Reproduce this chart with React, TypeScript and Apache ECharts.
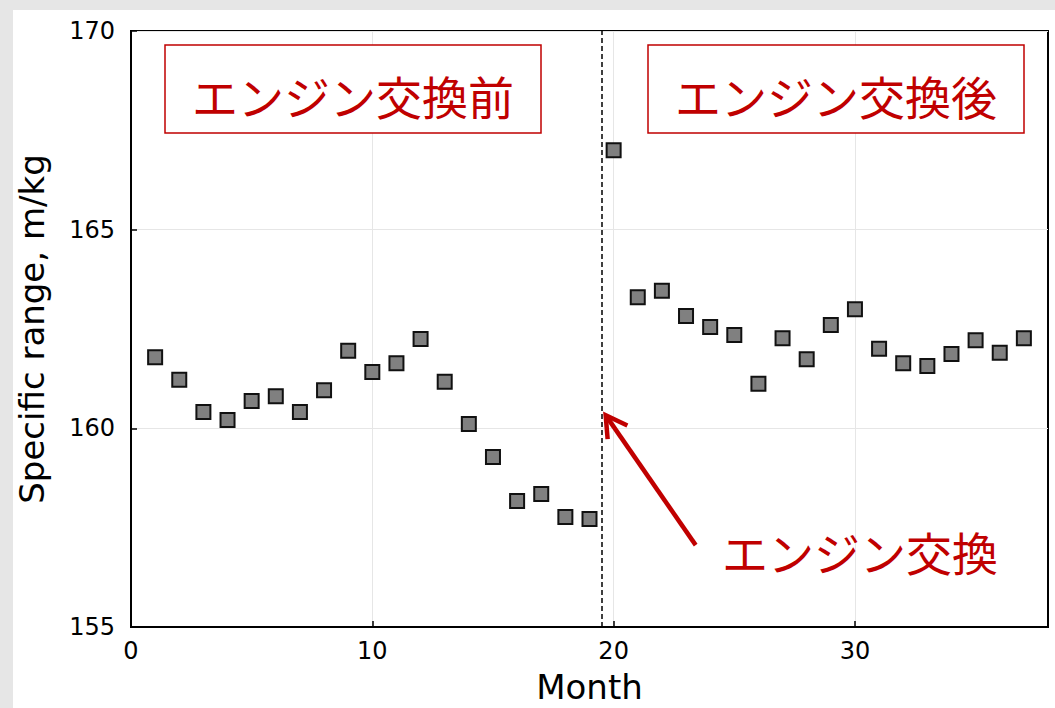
import React, { useEffect, useRef } from "react";
import * as echarts from "echarts";

const months = [1,2,3,4,5,6,7,8,9,10,11,12,13,14,15,16,17,18,19,20,21,22,23,24,25,26,27,28,29,30,31,32,33,34,35,36,37];
const specificRange = [
  161.79, 161.22, 160.41, 160.21, 160.69, 160.81, 160.41, 160.96, 161.95, 161.42,
  161.64, 162.25, 161.17, 160.11, 159.28, 158.17, 158.35, 157.77, 157.72, 167.0,
  163.3, 163.46, 162.83, 162.55, 162.35, 161.12, 162.27, 161.74, 162.6, 163.0,
  162.0, 161.64, 161.57, 161.87, 162.22, 161.9, 162.27,
];
const xTicks = [0, 10, 20, 30];
const yTicks = [155, 160, 165, 170];
const engineChangeMonth = 19.5;
// arrow from (x0, y0) to tip (x1, y1), in data units
const arrowData = [[23.4, 157.06, 19.67, 160.33]];
const labelBefore = "エンジン交換前";
const labelAfter = "エンジン交換後";
const labelChange = "エンジン交換";

const RED = "#c00000";
const JP = '"Noto Sans CJK JP", "Noto Sans", sans-serif';
const LAT = '"DejaVu Sans", sans-serif';

export default function App() {
  const ref = useRef<HTMLDivElement>(null);
  useEffect(() => {
    if (!ref.current) return;
    const chart = echarts.init(ref.current, undefined, { renderer: "svg" });
    const points = months.map((m, i) => [m, specificRange[i]]);
    chart.setOption({
      animation: false,
      backgroundColor: "#ffffff",
      grid: {
        left: 118,
        top: 21,
        right: 7,
        bottom: 81,
        outerBoundsMode: "none",
        containLabel: false,
        show: true,
        borderColor: "#000",
        borderWidth: 2,
        backgroundColor: "#fff",
      },
      xAxis: {
        type: "value",
        min: 0,
        max: 38,
        interval: 10,
        name: "Month",
        nameLocation: "middle",
        nameGap: 46,
        nameTextStyle: { fontFamily: LAT, fontSize: 34, lineHeight: 28, color: "#000" },
        axisLine: { show: true, onZero: false, lineStyle: { color: "#000", width: 2 } },
        axisTick: { show: true, inside: true, length: 6, lineStyle: { color: "#000", width: 1.5 }, customValues: xTicks },
        axisLabel: { fontFamily: LAT, fontSize: 24, color: "#000", margin: 12, customValues: xTicks },
        splitLine: { show: true, lineStyle: { color: "#e6e6e6", width: 1 } },
      },
      yAxis: {
        type: "value",
        min: 155,
        max: 170,
        interval: 5,
        name: "Specific range, m/kg",
        nameLocation: "middle",
        nameGap: 82,
        nameTextStyle: { fontFamily: LAT, fontSize: 34, color: "#000" },
        axisLine: { show: true, onZero: false, lineStyle: { color: "#000", width: 2 } },
        axisTick: { show: true, inside: true, length: 6, lineStyle: { color: "#000", width: 1.5 }, customValues: yTicks },
        axisLabel: { fontFamily: LAT, fontSize: 24, color: "#000", margin: 16, customValues: yTicks },
        splitLine: { show: true, lineStyle: { color: "#e6e6e6", width: 1 } },
      },
      series: [
        {
          type: "scatter",
          data: points,
          symbol: "rect",
          symbolSize: 14,
          itemStyle: { color: "#808080", borderColor: "#111", borderWidth: 2, opacity: 1 },
          z: 5,
          markLine: {
            silent: true,
            symbol: ["none", "none"],
            label: { show: false },
            lineStyle: { color: "#000", type: [5, 3], width: 1.5 },
            data: [{ xAxis: engineChangeMonth }],
          },
        },
        {
          type: "custom",
          data: arrowData,
          encode: { x: [0, 2], y: [1, 3] },
          silent: true,
          clip: false,
          z: 6,
          renderItem: (params: any, api: any) => {
            const p0 = api.coord([api.value(0), api.value(1)]);
            const p1 = api.coord([api.value(2), api.value(3)]);
            const dx = p0[0] - p1[0];
            const dy = p0[1] - p1[1];
            const len = Math.sqrt(dx * dx + dy * dy);
            const ux = dx / len;
            const uy = dy / len;
            const ang = (30 * Math.PI) / 180;
            const L = 24;
            const rot = (a: number) => [
              p1[0] + L * (ux * Math.cos(a) - uy * Math.sin(a)),
              p1[1] + L * (ux * Math.sin(a) + uy * Math.cos(a)),
            ];
            const a1 = rot(ang);
            const a2 = rot(-ang);
            return {
              type: "group",
              children: [
                {
                  type: "line",
                  shape: { x1: p0[0], y1: p0[1], x2: p1[0] + ux * 2, y2: p1[1] + uy * 2 },
                  style: { stroke: RED, lineWidth: 4.5, lineCap: "butt" },
                },
                {
                  type: "polyline",
                  shape: { points: [a1, p1, a2] },
                  style: { stroke: RED, lineWidth: 4.5, fill: null, lineJoin: "miter" },
                },
              ],
            };
          },
        },
      ],
      graphic: [
        {
          type: "rect",
          shape: { x: 152, y: 35, width: 376, height: 88 },
          style: { fill: "#fff", stroke: RED, lineWidth: 1.5 },
          z: 10,
        },
        {
          type: "text",
          x: 340,
          y: 85,
          style: { text: labelBefore, fill: RED, fontFamily: JP, fontSize: 46, align: "center", verticalAlign: "middle" },
          z: 11,
        },
        {
          type: "rect",
          shape: { x: 635, y: 35, width: 376, height: 88 },
          style: { fill: "#fff", stroke: RED, lineWidth: 1.5 },
          z: 10,
        },
        {
          type: "text",
          x: 823,
          y: 85,
          style: { text: labelAfter, fill: RED, fontFamily: JP, fontSize: 46, align: "center", verticalAlign: "middle" },
          z: 11,
        },
        {
          type: "text",
          x: 847,
          y: 541,
          style: { text: labelChange, fill: RED, fontFamily: JP, fontSize: 46, align: "center", verticalAlign: "middle" },
          z: 11,
        },
      ],
    });
    return () => chart.dispose();
  }, []);
  return (
    <div style={{ position: "fixed", left: 0, top: 0, width: 1055, height: 708, background: "#e6e6e6" }}>
      <div ref={ref} style={{ position: "absolute", left: 13, top: 10, width: 1042, height: 698, background: "#fff" }} />
    </div>
  );
}
